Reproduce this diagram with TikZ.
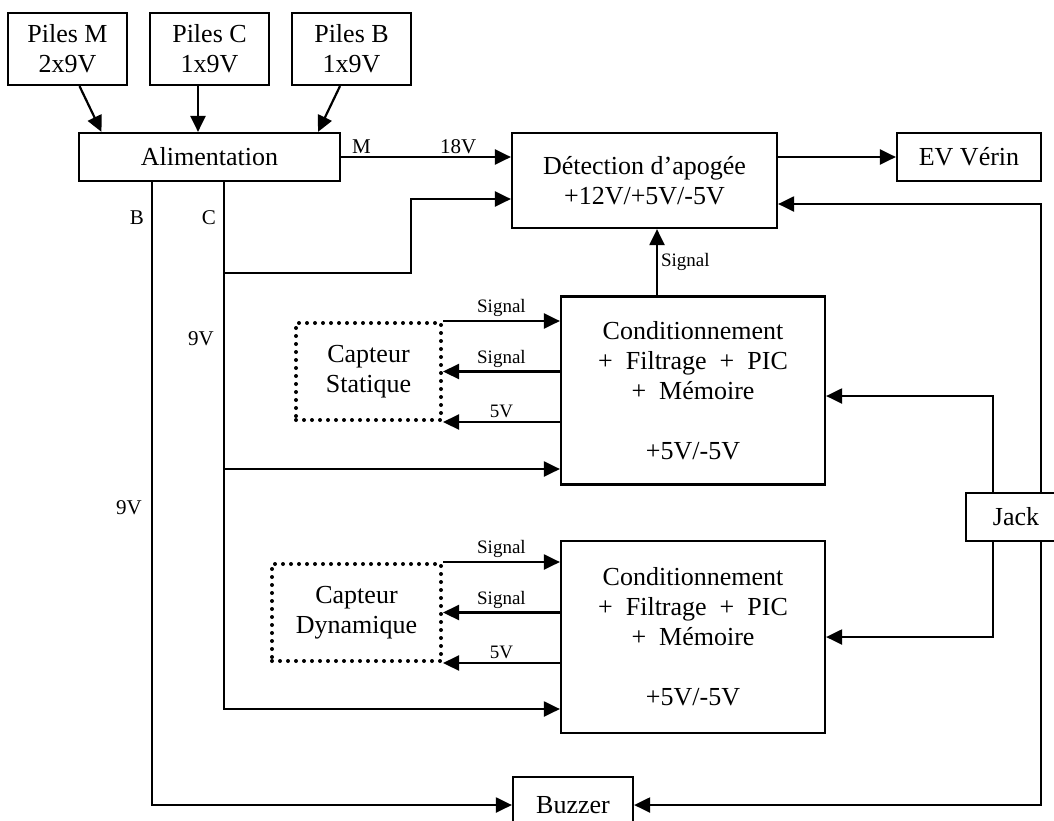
\documentclass[tikz,border=0pt]{standalone}
\usepackage{fontspec}
\setmainfont{Liberation Serif}
\usepackage{tikz}
\usetikzlibrary{arrows.meta}
\usetikzlibrary{calc}

\begin{document}
\begin{tikzpicture}
		[x=0.5pt, y=-0.5pt,
		font=\fontsize{13}{15}\selectfont,
		line width=1.1pt
		]
		
		% Styles: blocks, sensors, wires and small labels
		\tikzstyle{bloc}=[draw,line width=1.1pt,align=center,inner sep=0pt];
		\tikzstyle{capteur}=[draw,line width=2pt,dash pattern=on 0pt off 4pt,line cap=round,align=center,inner sep=0pt];
		\tikzstyle{fleche}=[-{Triangle[length=8pt,width=7.5pt]},line width=1.1pt];
		\tikzstyle{petit}=[font=\fontsize{10.5}{12}\selectfont,inner sep=1pt];
		\tikzstyle{sig}=[font=\fontsize{9.5}{11}\selectfont,inner sep=1.5pt];
		
		\useasboundingbox (0,0) rectangle (1054,820);
		
		% Batteries
		\node[bloc,minimum width=59.5pt,minimum height=36pt](pilesM) at (67.5,49){Piles M\\2x9V};
		\node[bloc,minimum width=59.5pt,minimum height=36pt](pilesC) at (209.5,49){Piles C\\1x9V};
		\node[bloc,minimum width=59.5pt,minimum height=36pt](pilesB) at (351.5,49){Piles B\\1x9V};
		\node[bloc,minimum width=130.5pt,minimum height=24pt](alim) at (209.5,157){Alimentation};
		
		% Apogee detection and valve
		\node[bloc,minimum width=132.5pt,minimum height=47.5pt](detect) at (644.5,180.5){D\'etection d'apog\'ee\\+12V/+5V/-5V};
		\node[bloc,minimum width=72pt,minimum height=24pt](ev) at (969,157){EV V\'erin};
		
		% The two acquisition chains
		\node[bloc,minimum width=132pt,minimum height=94pt](cond1) at (693,390.5){Conditionnement\\+~ Filtrage ~+~ PIC\\+~ M\'emoire\\[15pt]+5V/-5V};
		\node[bloc,minimum width=132pt,minimum height=96pt](cond2) at (693,637){Conditionnement\\+~ Filtrage ~+~ PIC\\+~ M\'emoire\\[15pt]+5V/-5V};
		\node[capteur,minimum width=72.5pt,minimum height=48.5pt](capS) at (368.5,371.5){Capteur\\Statique};
		\node[capteur,minimum width=84.5pt,minimum height=48.5pt](capD) at (356.5,612.5){Capteur\\Dynamique};
		
		% Jack and buzzer
		\node[bloc,minimum width=50pt,minimum height=24pt](jack) at (1016,517){Jack};
		\node[bloc,minimum width=60pt,minimum height=28pt](buzzer) at (573,805){Buzzer};
		
		% Bend points
		\coordinate (Bout) at (152,181);
		\coordinate (Cout) at (224,181);
		\coordinate (Cdet) at (411,199);
		\coordinate (Jd) at (1041,204);
		\coordinate (Jc) at (993,396);
		
		% Batteries to power supply
		\draw[fleche]([xshift=6pt]pilesM.south)--([xshift=-54pt]alim.north);
		\draw[fleche]([xshift=-5.75pt]pilesC.south)--([xshift=-5.75pt]pilesC.south |- alim.north);
		\draw[fleche]([xshift=-5.75pt]pilesB.south)--([xshift=54.25pt]alim.north);
		
		% Line M
		\draw[fleche](alim.east)--(detect.west |- alim.east)
			node[petit,pos=0.12,above]{M}
			node[petit,pos=0.69,above]{18V};
		\draw[fleche](detect.east |- ev.west)--(ev.west);
		
		% Line C
		\draw[fleche](Cout)|-(cond2.west |- 0,709);
		\draw[fleche](Cout |- 0,273)-|(Cdet)--(Cdet -| detect.west);
		\draw[fleche](Cout |- 0,469)--(cond1.west |- 0,469);
		
		% Line B
		\draw[fleche](Bout)|-(buzzer.west);
		
		% Signal to detection
		\draw[fleche]([xshift=-18pt]cond1.north)--([xshift=-18pt]cond1.north |- detect.south)
			node[sig,midway,right]{Signal};
		
		% Sensors
		\draw[fleche](capS.north east)--(capS.north east -| cond1.west) node[sig,midway,above]{Signal};
		\draw[fleche](cond1.west |- capS.east)--(capS.east) node[sig,midway,above]{Signal};
		\draw[fleche](cond1.west |- capS.south east)--(capS.south east) node[sig,midway,above]{5V};
		\draw[fleche](capD.north east)--(capD.north east -| cond2.west) node[sig,midway,above]{Signal};
		\draw[fleche](cond2.west |- capD.east)--(capD.east) node[sig,midway,above]{Signal};
		\draw[fleche](cond2.west |- capD.south east)--(capD.south east) node[sig,midway,above]{5V};
		
		% Jack wires
		\draw[fleche](jack.north -| Jd)--(Jd)--(Jd -| detect.east);
		\draw[fleche](jack.north -| Jc)--(Jc)--(Jc -| cond1.east);
		\draw[fleche](jack.south -| Jc)|-(cond2.east);
		\draw[fleche](jack.south -| Jd)|-(buzzer.east);
		
		% Wire names
		\node[petit,fill=white](labB) at (137,218){B};
		\node[petit,fill=white](labC) at (209,218){C};
		\node[petit,fill=white](lab9c) at (201,339){9V};
		\node[petit,fill=white](lab9b) at (129,508){9V};
		\end{tikzpicture}
\end{document}
